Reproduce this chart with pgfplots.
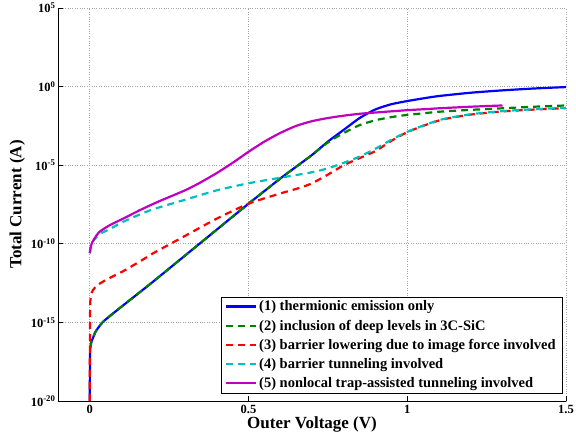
\documentclass[border=0pt]{standalone}
\usepackage{fontspec}
\setmainfont{Liberation Serif}
\usepackage{pgfplots}
\pgfplotsset{compat=1.18}
\definecolor{mblue}{rgb}{0,0,1}
\definecolor{mgreen}{rgb}{0,0.5,0}
\definecolor{mred}{rgb}{1,0,0}
\definecolor{mcyan}{rgb}{0,0.75,0.75}
\definecolor{mmag}{rgb}{0.75,0,0.75}
\newcommand{\tl}[1]{\textbf{\fontsize{12.5}{14}\selectfont #1}}
\begin{document}
\begin{tikzpicture}
\useasboundingbox (-58pt,-37pt) rectangle (518pt,401pt);
\begin{axis}[
  scale only axis, width=508pt, height=393pt,
  xmin=-0.1, xmax=1.5, ymin=-20, ymax=5,
  axis x line*=bottom, axis y line*=left,
  axis line style={-, line width=0.8pt},
  tick align=inside, major tick length=5pt,
  tick style={black, line width=0.6pt},
  xtick={0,0.5,1,1.5}, xticklabels={\tl{0},\tl{0.5},\tl{1},\tl{1.5}},
  ytick={-20,-15,-10,-5,0,5},
  yticklabels={\tl{10\textsuperscript{-20}},\tl{10\textsuperscript{-15}},\tl{10\textsuperscript{-10}},\tl{10\textsuperscript{-5}},\tl{10\textsuperscript{0}},\tl{10\textsuperscript{5}}},
  /pgf/number format/assume math mode=true,
  xticklabel style={yshift=-1pt},
  yticklabel style={xshift=1pt},
  grid=major, grid style={dotted, gray!70, line width=0.6pt},
  xlabel={Outer Voltage (V)}, ylabel={Total Current (A)},
  label style={font=\bfseries\fontsize{17}{20}\selectfont},
  xlabel style={at={(axis description cs:0.5,-0.061)}, anchor=center},
  ylabel style={at={(axis description cs:-0.08,0.5)}, anchor=center},
  legend style={at={(0.992,0.02)}, anchor=south east, draw=black, fill=white,
    font=\bfseries\fontsize{14.5}{16}\selectfont,
    inner xsep=4pt, inner ysep=2pt, row sep=3.5pt, cells={anchor=west}},
  legend image code/.code={\draw[line width=2.4pt,#1,line width=2.4pt] (0pt,0pt) -- (30pt,0pt);},
  every axis plot/.append style={line width=2.2pt, smooth, tension=0.4},
]
\addplot[mblue, solid] coordinates {
(0,-20) (0.0005,-18) (0.001,-17) (0.002,-16.6) (0.005,-16.25) (0.01,-16.0) (0.018,-15.6) (0.03,-15.25) (0.04,-15.0) (0.06,-14.65) (0.1,-14.0) (0.2,-12.4) (0.3,-10.75) (0.4,-9.1) (0.5,-7.45) (0.6,-5.85) (0.66,-4.95) (0.7,-4.35) (0.75,-3.5) (0.8,-2.75) (0.85,-2.0) (0.9,-1.45) (0.95,-1.12) (1.0,-0.92) (1.05,-0.75) (1.1,-0.6) (1.2,-0.39) (1.3,-0.24) (1.4,-0.12) (1.5,-0.03)
};
\addlegendentry{(1) thermionic emission only}
\addplot[mgreen, dash pattern=on 7pt off 5pt] coordinates {
(0.002,-16.6) (0.005,-16.25) (0.01,-16.0) (0.018,-15.6) (0.03,-15.25) (0.04,-15.0) (0.06,-14.65) (0.1,-14.0) (0.2,-12.4) (0.3,-10.75) (0.4,-9.1) (0.5,-7.45) (0.6,-5.85) (0.66,-4.95) (0.7,-4.35) (0.74,-3.7) (0.77,-3.3) (0.8,-2.95) (0.85,-2.45) (0.9,-2.14) (0.95,-1.94) (1.0,-1.8) (1.05,-1.7) (1.1,-1.6) (1.2,-1.48) (1.3,-1.38) (1.4,-1.28) (1.5,-1.2)
};
\addlegendentry{(2) inclusion of deep levels in 3C-SiC}
\addplot[mred, dash pattern=on 7pt off 5pt] coordinates {
(0,-20) (0.0005,-16) (0.001,-14.5) (0.002,-13.6) (0.005,-13.2) (0.01,-12.95) (0.02,-12.7) (0.03,-12.55) (0.06,-12.2) (0.1,-11.8) (0.164,-11.05) (0.2,-10.6) (0.3,-9.5) (0.4,-8.4) (0.5,-7.45) (0.6,-6.8) (0.66,-6.45) (0.7,-6.15) (0.75,-5.6) (0.8,-5.0) (0.85,-4.55) (0.9,-4.1) (0.95,-3.45) (1.0,-2.9) (1.05,-2.5) (1.11,-2.1) (1.2,-1.78) (1.3,-1.58) (1.4,-1.46) (1.5,-1.37)
};
\addlegendentry{(3) barrier lowering due to image force involved}
\addplot[mcyan, dash pattern=on 7pt off 5pt] coordinates {
(0,-10.6) (0.005,-10.1) (0.01,-9.85) (0.02,-9.6) (0.038,-9.3) (0.06,-9.1) (0.1,-8.65) (0.15,-8.2) (0.2,-7.8) (0.3,-7.2) (0.4,-6.6) (0.5,-6.15) (0.6,-5.8) (0.7,-5.45) (0.75,-5.2) (0.8,-4.85) (0.85,-4.45) (0.9,-3.95) (0.95,-3.38) (1.0,-2.88) (1.05,-2.48) (1.11,-2.08) (1.2,-1.76) (1.3,-1.56) (1.4,-1.44) (1.5,-1.35)
};
\addlegendentry{(4) barrier tunneling involved}
\addplot[mmag, solid] coordinates {
(0,-10.6) (0.003,-10.2) (0.008,-9.9) (0.018,-9.57) (0.03,-9.25) (0.06,-8.85) (0.11,-8.35) (0.164,-7.8) (0.218,-7.3) (0.3,-6.6) (0.344,-6.15) (0.4,-5.5) (0.45,-4.85) (0.5,-4.15) (0.55,-3.5) (0.6,-2.95) (0.65,-2.5) (0.7,-2.2) (0.75,-2.0) (0.8,-1.85) (0.85,-1.73) (0.9,-1.65) (1.0,-1.5) (1.07,-1.42) (1.1,-1.38) (1.2,-1.28) (1.3,-1.2)
};
\addlegendentry{(5) nonlocal trap-assisted tunneling involved}
\end{axis}
\end{tikzpicture}
\end{document}
